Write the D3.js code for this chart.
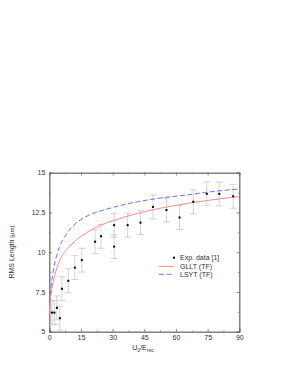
<!DOCTYPE html>
<html>
<head>
<meta charset="utf-8">
<script src="https://cdn.jsdelivr.net/npm/d3@7"></script>
<style>
  body { margin: 0; background: #fff; }
  svg { font-family: "Liberation Sans", Arial, sans-serif; }
</style>
</head>
<body>
<div id="chart"></div>
<script>
// experimental data [1]
const expX = [1.3, 2.4, 3.6, 5.0, 6.0, 9.0, 12.1, 15.4, 21.7, 24.5, 30.7, 30.7, 37.1, 43.2, 49.1, 55.5, 61.7, 68.2, 74.6, 80.5, 87.1];
const expY = [6.2, 6.2, 6.5, 5.85, 7.7, 8.2, 9.03, 9.5, 10.66, 11.0, 10.35, 11.7, 11.7, 11.86, 12.85, 12.65, 12.18, 13.17, 13.67, 13.67, 13.52];
const expErr = [0.75, 0.75, 0.75, 0.75, 0.75, 0.75, 0.75, 0.75, 0.75, 0.75, 0.75, 0.75, 0.75, 0.75, 0.75, 0.75, 0.75, 0.75, 0.75, 0.75, 0.75];

// GLLT (TF)
const glltX = [0, 0.3, 0.8, 1.6, 2.8, 4.7, 10.3, 17.4, 24, 30.6, 36.3, 43, 52.4, 58.7, 74.6, 90];
const glltY = [6.1, 6.75, 7.35, 7.94, 8.65, 9.4, 10.45, 11.2, 11.68, 12.0, 12.24, 12.48, 12.76, 12.92, 13.25, 13.5];

// LSYT (TF)
const lsytX = [0, 0.3, 0.8, 1.5, 2.4, 3.5, 4.7, 7.9, 11.5, 17.4, 24, 30.8, 36.3, 43, 52.4, 65, 74.6, 90];
const lsytY = [6.8, 7.2, 7.8, 8.5, 9.2, 9.8, 10.3, 11.1, 11.68, 12.24, 12.58, 12.84, 13.02, 13.2, 13.4, 13.6, 13.77, 13.98];

const xTicks = [0, 15, 30, 45, 60, 75, 90];
const yTicks = [5, 7.5, 10, 12.5, 15];
const legendLabels = ["Exp. data [1]", "GLLT (TF)", "LSYT (TF)"];

const width = 289, height = 374;
const margin = { left: 49.3, right: 49.7, top: 172.7, bottom: 42.3 };

const svg = d3.select("#chart").append("svg")
  .attr("width", width)
  .attr("height", height);

const x = d3.scaleLinear().domain([0, 90]).range([margin.left, width - margin.right]);
const y = d3.scaleLinear().domain([5, 15]).range([height - margin.bottom, margin.top]);

const axisColor = "#666";
const textColor = "#333";

// minor ticks
const xMinor = d3.range(0, 90.01, 7.5);
const yMinor = d3.range(5, 15.01, 1.25);

function styleAxis(g) {
  g.selectAll(".domain").attr("stroke", axisColor).attr("stroke-width", 0.8);
  g.selectAll(".tick line").attr("stroke", axisColor).attr("stroke-width", 0.6);
  g.selectAll("text").attr("fill", textColor).style("font-size", "7px");
}

// bottom
svg.append("g")
  .attr("transform", `translate(0,${y(5)})`)
  .call(d3.axisBottom(x).tickValues(xMinor).tickSize(-1.5).tickFormat(""))
  .call(styleAxis);
svg.append("g")
  .attr("transform", `translate(0,${y(5)})`)
  .call(d3.axisBottom(x).tickValues(xTicks).tickSize(-3).tickPadding(3.5).tickFormat(d3.format("d")))
  .call(styleAxis);
// top
svg.append("g")
  .attr("transform", `translate(0,${y(15)})`)
  .call(d3.axisTop(x).tickValues(xMinor).tickSize(-1.5).tickFormat(""))
  .call(styleAxis);
svg.append("g")
  .attr("transform", `translate(0,${y(15)})`)
  .call(d3.axisTop(x).tickValues(xTicks).tickSize(-3).tickFormat(""))
  .call(styleAxis);
// left
svg.append("g")
  .attr("transform", `translate(${x(0)},0)`)
  .call(d3.axisLeft(y).tickValues(yMinor).tickSize(-1.5).tickFormat(""))
  .call(styleAxis);
svg.append("g")
  .attr("transform", `translate(${x(0)},0)`)
  .call(d3.axisLeft(y).tickValues(yTicks).tickSize(-3).tickPadding(4).tickFormat(d => d))
  .call(styleAxis);
// right
svg.append("g")
  .attr("transform", `translate(${x(90)},0)`)
  .call(d3.axisRight(y).tickValues(yMinor).tickSize(-1.5).tickFormat(""))
  .call(styleAxis);
svg.append("g")
  .attr("transform", `translate(${x(90)},0)`)
  .call(d3.axisRight(y).tickValues(yTicks).tickSize(-3).tickFormat(""))
  .call(styleAxis);

// error bars
const exp = expX.map((d, i) => ({ x: d, y: expY[i], e: expErr[i] }));
const cap = 3.5;
const eb = svg.append("g")
  .attr("stroke", "#c8c8c8")
  .attr("stroke-width", 0.8);
exp.forEach(d => {
  const lo = Math.max(5, d.y - d.e);
  eb.append("line")
    .attr("x1", x(d.x)).attr("x2", x(d.x))
    .attr("y1", y(lo)).attr("y2", y(d.y + d.e));
  eb.append("line")
    .attr("x1", x(d.x) - cap).attr("x2", x(d.x) + cap)
    .attr("y1", y(d.y + d.e)).attr("y2", y(d.y + d.e));
  if (d.y - d.e >= 5) {
    eb.append("line")
      .attr("x1", x(d.x) - cap).attr("x2", x(d.x) + cap)
      .attr("y1", y(d.y - d.e)).attr("y2", y(d.y - d.e));
  }
});

// theory curves
const line = d3.line()
  .x(d => x(d[0]))
  .y(d => y(d[1]))
  .curve(d3.curveMonotoneX);

svg.append("path")
  .datum(glltX.map((d, i) => [d, glltY[i]]))
  .attr("fill", "none")
  .attr("stroke", "#ff8a8a")
  .attr("stroke-width", 1)
  .attr("d", line);

svg.append("path")
  .datum(lsytX.map((d, i) => [d, lsytY[i]]))
  .attr("fill", "none")
  .attr("stroke", "#6f6fff")
  .attr("stroke-width", 1)
  .attr("stroke-dasharray", "5,2.5")
  .attr("d", line);

// data points
svg.append("g")
  .selectAll("rect")
  .data(exp)
  .enter().append("rect")
    .attr("x", d => x(d.x) - 1)
    .attr("y", d => y(d.y) - 1)
    .attr("width", 2)
    .attr("height", 2)
    .attr("fill", "#000");

// legend
const lg = svg.append("g").style("font-size", "7px").attr("fill", textColor);
const lgX = 180, lgY = [257.7, 266.4, 274.3];
lg.append("rect").attr("x", 173).attr("y", lgY[0] - 1).attr("width", 2).attr("height", 2).attr("fill", "#000");
lg.append("line").attr("x1", 159).attr("x2", 174).attr("y1", lgY[1]).attr("y2", lgY[1])
  .attr("stroke", "#ff8a8a").attr("stroke-width", 1);
lg.append("line").attr("x1", 159).attr("x2", 174).attr("y1", lgY[2]).attr("y2", lgY[2])
  .attr("stroke", "#6f6fff").attr("stroke-width", 1).attr("stroke-dasharray", "5,2.5");
lg.selectAll("text")
  .data(legendLabels)
  .enter().append("text")
    .attr("x", lgX)
    .attr("y", (d, i) => lgY[i])
    .attr("dy", "0.35em")
    .text(d => d);

// axis titles
const xt = svg.append("text")
  .attr("x", 143)
  .attr("y", 350)
  .attr("text-anchor", "middle")
  .attr("fill", textColor)
  .style("font-size", "7px");
xt.append("tspan").text("U");
xt.append("tspan").attr("dy", 1.5).style("font-size", "5px").text("0");
xt.append("tspan").attr("dy", -1.5).text("/E");
xt.append("tspan").attr("dy", 1.5).style("font-size", "5px").text("rec");

const yt = svg.append("text")
  .attr("transform", `translate(14,${y(10)}) rotate(-90)`)
  .attr("text-anchor", "middle")
  .attr("fill", textColor)
  .style("font-size", "7px");
yt.append("tspan").text("RMS Length ");
yt.append("tspan").style("font-size", "6px").text("[μm]");
</script>
</body>
</html>
